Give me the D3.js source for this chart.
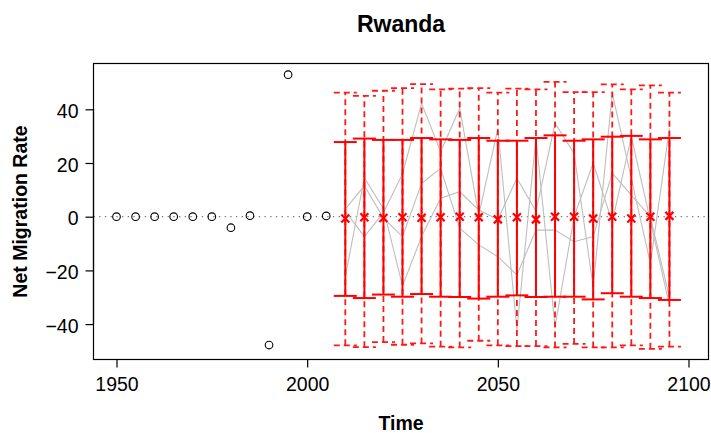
<!DOCTYPE html>
<html>
<head>
<meta charset="utf-8">
<script src="https://cdn.jsdelivr.net/npm/d3@7"></script>
<style>
  html, body { margin: 0; padding: 0; background: #fff; }
  svg text { font-family: "Liberation Sans", Arial, Helvetica, sans-serif; }
</style>
</head>
<body>
<svg id="chart" width="711" height="433"></svg>
<script>
// ---- data ----
const chartTitle = "Rwanda";
const xLabel = "Time";
const yLabel = "Net Migration Rate";
const xTicks = [1950, 2000, 2050, 2100];
const yTicks = [-40, -20, 0, 20, 40];

const histYears = [1950, 1955, 1960, 1965, 1970, 1975, 1980, 1985, 1990, 1995, 2000, 2005];
const histValues = [0, 0, 0, 0, 0, 0, -4.1, 0.4, -47.8, 52.9, 0, 0.3];

const projYears = [2010, 2015, 2020, 2025, 2030, 2035, 2040, 2045, 2050, 2055, 2060, 2065, 2070, 2075, 2080, 2085, 2090, 2095];
const median  = [-0.7, -0.2, -0.5, -0.2, -0.4, -0.2, 0, -0.2, -1.0, -0.2, -1.0, 0, 0, -0.7, 0, -0.7, 0, 0.3];
const lower80 = [-29.5, -30.3, -29.0, -29.8, -28.8, -29.8, -29.9, -30.5, -29.8, -29.3, -29.9, -29.8, -29.8, -30.8, -28.5, -29.8, -30.3, -31.0];
const upper80 = [27.8, 29.1, 28.6, 28.6, 29.3, 28.8, 28.6, 29.3, 28.3, 28.3, 29.3, 30.3, 28.3, 28.8, 29.8, 30.1, 28.8, 29.3];
const lower95 = [-47.9, -48.6, -46.7, -47.7, -47.2, -48.4, -48.7, -46.2, -47.9, -48.2, -48.2, -48.7, -47.4, -48.7, -48.7, -47.9, -49.2, -48.4];
const upper95 = [46.2, 45.0, 46.9, 47.9, 49.4, 47.4, 47.7, 47.9, 46.2, 47.7, 47.4, 50.2, 46.4, 46.4, 49.3, 47.4, 48.9, 46.2];

const traj1 = [2.0, -7.4, 1.5, 16.0, 42.2, 24.2, 40.4, 0.6, 32.9, -42.2, 29.5, -41.0, 0.0, 20.0, -2.0, 29.8, -1.5, -33.0];
const traj2 = [-22.3, 14.5, 3.0, -25.8, -7.4, 6.9, 9.3, 2.5, -1.0, 14.3, 2.0, 34.8, 23.6, -26.1, 46.0, 14.3, -17.4, 32.9];
const traj3 = [2.8, 11.5, -0.5, -7.4, 12.4, 18.0, -4.3, -10.5, -14.9, -21.7, -5.0, -5.0, -9.3, -7.4, 16.2, 8.0, 0.0, -30.0];

// ---- layout ----
const svg = d3.select("#chart");
const box = { left: 93.5, right: 708.5, top: 63.5, bottom: 359.5 };

const x = d3.scaleLinear().domain([1950, 2100]).range([116.5, 688.5]);
const y = d3.scaleLinear().domain([-40, 40]).range([324.1, 109.3]);

const RED = "#ff0000";
const capHalf = 11.5;

// zero reference line
svg.append("line")
  .attr("x1", box.left).attr("x2", box.right)
  .attr("y1", y(0)).attr("y2", y(0))
  .attr("stroke", "#777").attr("stroke-width", 1.3)
  .attr("stroke-dasharray", "1.3,4.4");

// trajectories
const lineGen = d3.line().x((d, i) => x(projYears[i])).y(d => y(d));
[traj1, traj2, traj3].forEach(t => {
  svg.append("path").datum(t)
    .attr("d", lineGen)
    .attr("fill", "none")
    .attr("stroke", "#bebebe")
    .attr("stroke-width", 1.1);
});

// 95% intervals (dashed)
const g95 = svg.append("g").attr("stroke", RED).attr("stroke-width", 1.8)
  .attr("stroke-dasharray", "6,4").attr("fill", "none").attr("opacity", 0.9);
projYears.forEach((yr, i) => {
  const cx = x(yr);
  g95.append("line").attr("x1", cx).attr("x2", cx).attr("y1", y(lower95[i])).attr("y2", y(upper95[i]));
  g95.append("line").attr("x1", cx - capHalf).attr("x2", cx + capHalf).attr("y1", y(upper95[i])).attr("y2", y(upper95[i]));
  g95.append("line").attr("x1", cx - capHalf).attr("x2", cx + capHalf).attr("y1", y(lower95[i])).attr("y2", y(lower95[i]));
});

// 80% intervals (solid)
const g80 = svg.append("g").attr("stroke", RED).attr("stroke-width", 2).attr("fill", "none");
projYears.forEach((yr, i) => {
  const cx = x(yr);
  g80.append("line").attr("x1", cx).attr("x2", cx).attr("y1", y(lower80[i])).attr("y2", y(upper80[i]));
  g80.append("line").attr("x1", cx - capHalf).attr("x2", cx + capHalf).attr("y1", y(upper80[i])).attr("y2", y(upper80[i]));
  g80.append("line").attr("x1", cx - capHalf).attr("x2", cx + capHalf).attr("y1", y(lower80[i])).attr("y2", y(lower80[i]));
});

// medians (x marks)
const gm = svg.append("g").attr("stroke", RED).attr("stroke-width", 2.2);
projYears.forEach((yr, i) => {
  const cx = x(yr), cy = y(median[i]), s = 4;
  gm.append("line").attr("x1", cx - s).attr("x2", cx + s).attr("y1", cy - s).attr("y2", cy + s);
  gm.append("line").attr("x1", cx - s).attr("x2", cx + s).attr("y1", cy + s).attr("y2", cy - s);
});

// observed points
svg.append("g").selectAll("circle").data(histValues).join("circle")
  .attr("cx", (d, i) => x(histYears[i]))
  .attr("cy", d => y(d))
  .attr("r", 3.8)
  .attr("fill", "none")
  .attr("stroke", "#000")
  .attr("stroke-width", 1.1);

// plot box
svg.append("rect")
  .attr("x", box.left).attr("y", box.top)
  .attr("width", box.right - box.left).attr("height", box.bottom - box.top)
  .attr("fill", "none").attr("stroke", "#000").attr("stroke-width", 1.2);

// axes
const xAxis = d3.axisBottom(x).tickValues(xTicks).tickFormat(d3.format("d")).tickSizeOuter(0).tickSize(8).tickPadding(10);
const gx = svg.append("g").attr("transform", `translate(0,${box.bottom})`).call(xAxis);
gx.select(".domain").attr("d", `M${x(1950)},0H${x(2100)}`).attr("stroke-width", 1.2);
gx.selectAll(".tick line").attr("stroke-width", 1.2);
gx.selectAll("text").attr("font-size", 19.5).attr("fill", "#000")
  .style("font-family", "'Liberation Sans', Arial, sans-serif");

const yAxis = d3.axisLeft(y).tickValues(yTicks).tickFormat(d => d < 0 ? "\u2212" + Math.abs(d) : String(d)).tickSizeOuter(0).tickSize(8).tickPadding(7);
const gy = svg.append("g").attr("transform", `translate(${box.left},0)`).call(yAxis);
gy.select(".domain").attr("d", `M0,${y(-40)}V${y(40)}`).attr("stroke-width", 1.2);
gy.selectAll(".tick line").attr("stroke-width", 1.2);
gy.selectAll("text").attr("font-size", 19.5).attr("fill", "#000").attr("dy", "0.42em")
  .style("font-family", "'Liberation Sans', Arial, sans-serif");

// title
svg.append("text")
  .attr("x", (box.left + box.right) / 2).attr("y", 32)
  .attr("text-anchor", "middle")
  .attr("font-size", 23).attr("font-weight", "bold")
  .text(chartTitle);

// axis labels
svg.append("text")
  .attr("x", (box.left + box.right) / 2).attr("y", 430)
  .attr("text-anchor", "middle")
  .attr("font-size", 19.5).attr("font-weight", "bold")
  .text(xLabel);

svg.append("text")
  .attr("transform", `translate(27,${(box.top + box.bottom) / 2}) rotate(-90)`)
  .attr("text-anchor", "middle")
  .attr("font-size", 19.5).attr("font-weight", "bold")
  .text(yLabel);
</script>
</body>
</html>
